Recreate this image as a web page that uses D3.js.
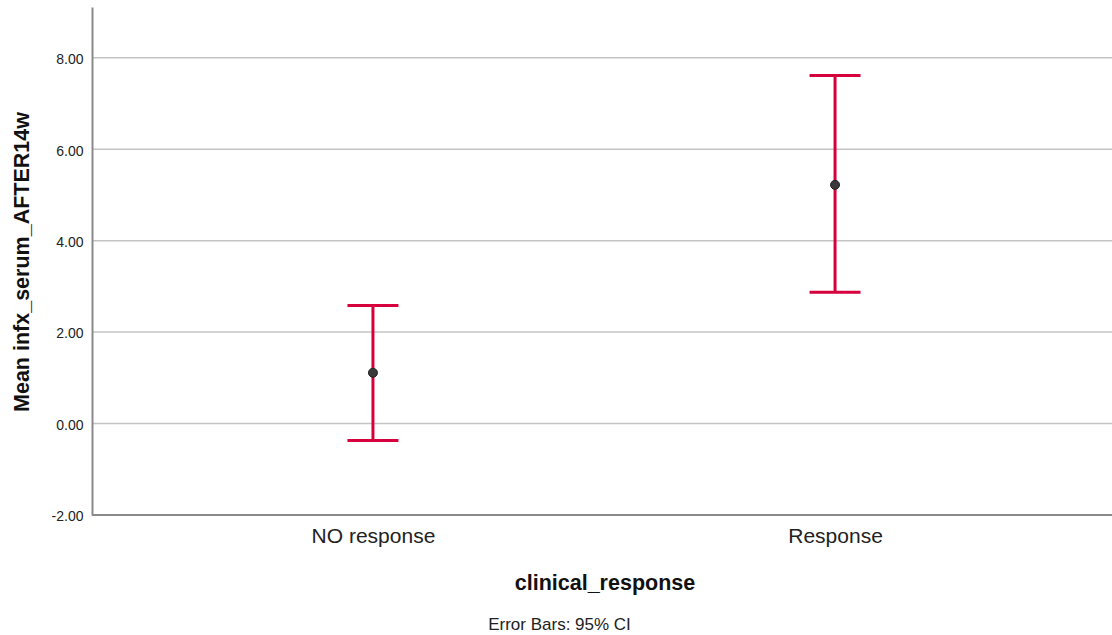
<!DOCTYPE html>
<html>
<head>
<meta charset="utf-8">
<script src="https://cdn.jsdelivr.net/npm/d3@7"></script>
<style>
  html, body { margin: 0; padding: 0; background: #ffffff; }
  svg { display: block; font-family: "Liberation Sans", Arial, sans-serif; }
</style>
</head>
<body>
<svg id="chart" width="1112" height="635"></svg>
<script>
// Group means with 95% confidence intervals
const categories = ["NO response", "Response"];
const means = [1.11, 5.22];
const ciLower = [-0.37, 2.87];
const ciUpper = [2.58, 7.61];
const yTicks = [-2, 0, 2, 4, 6, 8];

const width = 1112, height = 635;
const margin = { top: 7, right: 0, bottom: 120, left: 92 };

const svg = d3.select("#chart");

const x = d3.scalePoint()
  .domain(categories)
  .range([margin.left, width + 4])
  .padding(0.608);

const y = d3.scaleLinear()
  .domain([-2, 9.11])
  .range([515, margin.top]);

// Two-decimal labels with a plain hyphen for negatives
const fmt = d3.formatLocale({ decimal: ".", thousands: ",", grouping: [3], currency: ["", ""], minus: "-" }).format(".2f");

// Horizontal gridlines
svg.append("g")
  .selectAll("line")
  .data(yTicks.filter(d => d !== -2))
  .join("line")
  .attr("x1", margin.left)
  .attr("x2", width)
  .attr("y1", d => y(d))
  .attr("y2", d => y(d))
  .attr("stroke", "#c4c4c4")
  .attr("stroke-width", 1.5);

// Y axis
const yAxis = svg.append("g")
  .attr("transform", `translate(${margin.left},0)`)
  .call(d3.axisLeft(y).tickValues(yTicks).tickFormat(fmt).tickSize(0).tickPadding(8.5));
yAxis.select(".domain").attr("stroke", "#8a8a8a").attr("stroke-width", 2);
yAxis.selectAll("text").attr("font-size", 14).attr("fill", "#222").attr("dy", "0.42em");

// X axis
const xAxis = svg.append("g")
  .attr("transform", `translate(0,${y(-2)})`)
  .call(d3.axisBottom(x).tickSize(0).tickPadding(13));
xAxis.select(".domain").attr("d", `M${margin.left},0H${width}`).attr("stroke", "#8a8a8a").attr("stroke-width", 2);
xAxis.selectAll("text").attr("font-size", 21).attr("fill", "#222");

// Error bars
const capHalf = 25.5;
const bars = svg.append("g")
  .selectAll("g")
  .data(categories.map((c, i) => ({ c, m: means[i], lo: ciLower[i], hi: ciUpper[i] })))
  .join("g");

bars.append("line")
  .attr("x1", d => x(d.c)).attr("x2", d => x(d.c))
  .attr("y1", d => y(d.lo)).attr("y2", d => y(d.hi))
  .attr("stroke", "#d6003d").attr("stroke-width", 3);
bars.append("line")
  .attr("x1", d => x(d.c) - capHalf).attr("x2", d => x(d.c) + capHalf)
  .attr("y1", d => y(d.hi)).attr("y2", d => y(d.hi))
  .attr("stroke", "#d6003d").attr("stroke-width", 3);
bars.append("line")
  .attr("x1", d => x(d.c) - capHalf).attr("x2", d => x(d.c) + capHalf)
  .attr("y1", d => y(d.lo)).attr("y2", d => y(d.lo))
  .attr("stroke", "#d6003d").attr("stroke-width", 3);
bars.append("circle")
  .attr("cx", d => x(d.c))
  .attr("cy", d => y(d.m))
  .attr("r", 4.5)
  .attr("fill", "#3a3a3a")
  .attr("stroke", "#222")
  .attr("stroke-width", 1);

// Axis titles and footnote
svg.append("text")
  .attr("x", 605).attr("y", 590)
  .attr("text-anchor", "middle")
  .attr("font-size", 21.5).attr("font-weight", "bold").attr("fill", "#111")
  .text("clinical_response");

svg.append("text")
  .attr("transform", "translate(28.5,262) rotate(-90)")
  .attr("text-anchor", "middle")
  .attr("font-size", 21.5).attr("font-weight", "bold").attr("fill", "#111")
  .text("Mean infx_serum_AFTER14w");

svg.append("text")
  .attr("x", 559.5).attr("y", 629.5)
  .attr("text-anchor", "middle")
  .attr("font-size", 17).attr("fill", "#222")
  .text("Error Bars: 95% CI");
</script>
</body>
</html>
